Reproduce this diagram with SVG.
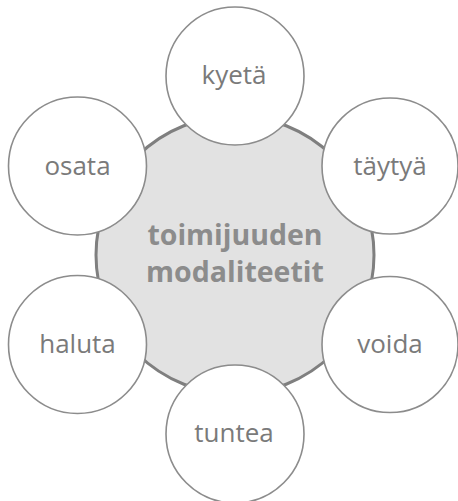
<svg xmlns="http://www.w3.org/2000/svg" width="458" height="501" viewBox="0 0 458 501">
<style>
.hub{fill:#e2e2e2;stroke:#7f7f7f;stroke-width:3}
.sat{fill:#fff;stroke:#8c8c8c;stroke-width:1.6}
.lbl{font-family:"Open Sans","Liberation Sans",sans-serif;font-size:26px;fill:#7a7a7a;text-anchor:middle}
.hubl{font-family:"Open Sans","Liberation Sans",sans-serif;font-size:28.5px;font-weight:bold;fill:#8c8c8c;text-anchor:middle}
</style>
<rect width="458" height="501" fill="#fff"/>
<g id="connectors"></g>
<g id="hub">
<circle class="hub" cx="235" cy="255" r="139"/>
<text class="hubl" x="235" y="245">toimijuuden</text>
<text class="hubl" x="235" y="282">modaliteetit</text>
</g>
<g id="kyeta"><circle class="sat" cx="235" cy="76" r="69"/><text class="lbl" x="234" y="84">kyetä</text></g>
<g id="taytya"><circle class="sat" cx="390" cy="166" r="68"/><text class="lbl" x="390" y="175">täytyä</text></g>
<g id="voida"><circle class="sat" cx="390" cy="344.5" r="68"/><text class="lbl" x="390" y="353">voida</text></g>
<g id="tuntea"><circle class="sat" cx="235" cy="434" r="69"/><text class="lbl" x="234" y="442">tuntea</text></g>
<g id="haluta"><circle class="sat" cx="77.5" cy="344.5" r="69"/><text class="lbl" x="77.5" y="353">haluta</text></g>
<g id="osata"><circle class="sat" cx="77.5" cy="166" r="69"/><text class="lbl" x="77.5" y="175">osata</text></g>
</svg>
